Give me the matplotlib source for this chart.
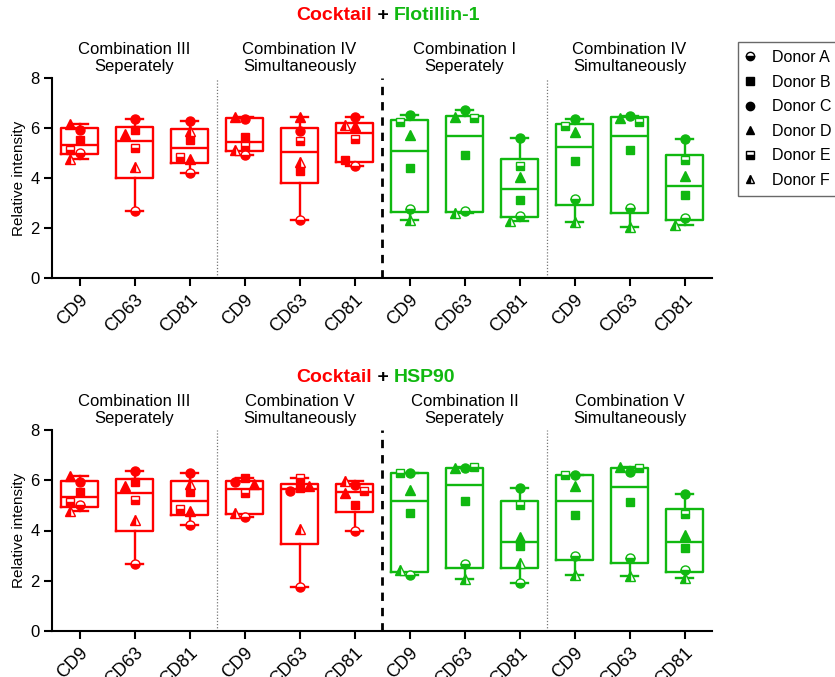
import numpy as np
import matplotlib
matplotlib.use('Agg')
import matplotlib.pyplot as plt
from matplotlib.lines import Line2D
from matplotlib.offsetbox import TextArea, HPacker, AnchoredOffsetbox
from matplotlib import font_manager

plt.rcParams['font.family'] = ['Liberation Sans', 'DejaVu Sans']

RED = '#FF0000'
GREEN = '#10B810'

cd_labels = ['CD9', 'CD63', 'CD81']
donors = ['Donor A', 'Donor B', 'Donor C', 'Donor D', 'Donor E', 'Donor F']

# rows: CD9, CD63, CD81 ; columns: donors A..F
flot_comb3_sep = [[5.00, 5.53, 5.93, 6.17, 5.13, 4.77],
                  [2.67, 5.93, 6.37, 5.76, 5.20, 4.43],
                  [4.20, 5.53, 6.29, 4.76, 4.85, 5.87]]
flot_comb4_sim_red = [[4.93, 5.63, 6.37, 6.44, 5.29, 5.13],
                      [2.33, 4.29, 5.87, 6.44, 5.47, 4.63],
                      [4.47, 4.71, 6.44, 6.07, 5.56, 6.13]]
flot_comb1_sep = [[2.76, 4.40, 6.53, 5.73, 6.23, 2.33],
                  [2.67, 4.93, 6.71, 6.43, 6.40, 2.60],
                  [2.49, 3.11, 5.60, 4.04, 4.49, 2.27]]
flot_comb4_sim_green = [[3.16, 4.67, 6.36, 5.83, 6.09, 2.23],
                        [2.80, 5.13, 6.49, 6.40, 6.23, 2.03],
                        [2.40, 3.33, 5.56, 4.07, 4.71, 2.13]]

hsp_comb3_sep = [[5.00, 5.53, 5.93, 6.17, 5.13, 4.77],
                 [2.67, 5.93, 6.37, 5.76, 5.20, 4.43],
                 [4.20, 5.53, 6.29, 4.76, 4.85, 5.87]]
hsp_comb5_sim_red = [[4.55, 6.07, 5.93, 5.85, 5.48, 4.68],
                     [1.77, 5.71, 5.57, 5.77, 6.07, 4.04],
                     [3.97, 5.00, 5.80, 5.48, 5.57, 5.97]]
hsp_comb2_sep = [[2.24, 4.71, 6.28, 5.61, 6.28, 2.41],
                 [2.67, 5.17, 6.48, 6.47, 6.53, 2.08],
                 [1.93, 3.37, 5.71, 3.75, 5.00, 2.71]]
hsp_comb5_sim_green = [[3.00, 4.60, 6.20, 5.77, 6.20, 2.24],
                       [2.91, 5.13, 6.33, 6.53, 6.47, 2.17],
                       [2.44, 3.31, 5.44, 3.81, 4.64, 2.11]]

top_groups = [("Combination III\nSeperately", flot_comb3_sep, RED),
              ("Combination IV\nSimultaneously", flot_comb4_sim_red, RED),
              ("Combination I\nSeperately", flot_comb1_sep, GREEN),
              ("Combination IV\nSimultaneously", flot_comb4_sim_green, GREEN)]
bottom_groups = [("Combination III\nSeperately", hsp_comb3_sep, RED),
                 ("Combination V\nSimultaneously", hsp_comb5_sim_red, RED),
                 ("Combination II\nSeperately", hsp_comb2_sep, GREEN),
                 ("Combination V\nSimultaneously", hsp_comb5_sim_green, GREEN)]

# marker styles per donor: (marker, fillstyle)
donor_styles = [('o', 'bottom'), ('s', 'full'), ('o', 'full'),
                ('^', 'full'), ('s', 'bottom'), ('^', 'left')]
donor_sizes = [6.5, 5.8, 6.5, 6.5, 5.8, 6.5]


def box_stats(vals):
    v = np.asarray(vals, dtype=float)
    q1, med, q3 = np.percentile(v, [25, 50, 75], method='weibull')
    return dict(med=med, q1=q1, q3=q3, whislo=v.min(), whishi=v.max(), fliers=[])


def swarm_offsets(vals, dx=0.165, dy=0.32):
    placed = []
    offs = []
    for v in vals:
        chosen = 0.0
        for k in [0, -1, 1, -2, 2, -3, 3]:
            o = k * dx
            if all(not (abs(o - po) < dx * 0.95 and abs(v - pv) < dy) for po, pv in placed):
                chosen = o
                break
        placed.append((chosen, v))
        offs.append(chosen)
    return offs


fig = plt.figure(figsize=(8.35, 6.77), dpi=100)
W, H = 835, 677


def make_panel(rect, groups):
    ax = fig.add_axes(rect)
    xticks = []
    xlabels = []
    for gi, (glabel, data, col) in enumerate(groups):
        for ci, vals in enumerate(data):
            pos = gi * 3 + ci
            xticks.append(pos)
            xlabels.append(cd_labels[ci])
            lw = 1.7
            ax.bxp([box_stats(vals)], positions=[pos], widths=0.69, showfliers=False,
                   capwidths=0.3, manage_ticks=False,
                   boxprops=dict(color=col, lw=lw),
                   whiskerprops=dict(color=col, lw=lw),
                   capprops=dict(color=col, lw=lw),
                   medianprops=dict(color=col, lw=lw))
            offs = swarm_offsets(vals)
            for di, v in enumerate(vals):
                m, fs = donor_styles[di]
                ax.plot(pos + offs[di], v, linestyle='none', marker=m, fillstyle=fs,
                        markersize=donor_sizes[di], markerfacecolor=col,
                        markerfacecoloralt='white', markeredgecolor=col,
                        markeredgewidth=1.0, zorder=5, clip_on=False)
        ax.text(gi * 3 + 1, 1.02, glabel, transform=ax.get_xaxis_transform(),
                ha='center', va='bottom', fontsize=12, linespacing=1.15)
    for xs in (2.5, 8.5):
        ax.axvline(xs, color='#777777', lw=0.9, ls=(0, (1, 1.5)), zorder=1)
    ax.axvline(5.5, color='black', lw=2.0, ls=(0, (3, 2.5)), zorder=1)
    ax.set_xlim(-0.5, 11.5)
    ax.set_ylim(0, 8)
    ax.set_yticks([0, 2, 4, 6, 8])
    ax.set_xticks(xticks)
    ax.set_xticklabels(xlabels, rotation=45, ha='right', rotation_mode='anchor', fontsize=13)
    ax.tick_params(axis='y', labelsize=12, width=1.5, length=6, pad=3)
    ax.tick_params(axis='x', width=1.5, length=6)
    for s in ('top', 'right'):
        ax.spines[s].set_visible(False)
    for s in ('left', 'bottom'):
        ax.spines[s].set_linewidth(1.5)
    ax.set_ylabel('Relative intensity', fontsize=11, labelpad=3)
    return ax


ax1 = make_panel([52 / W, 1 - 278 / H, 660 / W, 200 / H], top_groups)
ax2 = make_panel([52 / W, 1 - 631 / H, 660 / W, 201 / H], bottom_groups)

# titles
names = {f.name for f in font_manager.fontManager.ttflist}
if 'Liberation Sans Narrow' in names:
    tfam, tsize = 'Liberation Sans Narrow', 16
else:
    tfam, tsize = 'Liberation Sans', 14


def add_title(parts, ypix):
    areas = [TextArea(t, textprops=dict(color=c, fontweight='bold', fontsize=tsize, family=tfam))
             for t, c in parts]
    box = HPacker(children=areas, align='baseline', pad=0, sep=0)
    anch = AnchoredOffsetbox(loc='center left', child=box, pad=0, frameon=False,
                             bbox_to_anchor=(296 / W, 1 - ypix / H),
                             bbox_transform=fig.transFigure, borderpad=0)
    fig.add_artist(anch)


add_title([('Cocktail', RED), (' + ', 'black'), ('Flotillin-1', GREEN)], 15)
add_title([('Cocktail', RED), (' + ', 'black'), ('HSP90', GREEN)], 378)

# legend
handles = []
for di in range(6):
    m, fs = donor_styles[di]
    handles.append(Line2D([], [], linestyle='none', marker=m, fillstyle=fs,
                          markersize=donor_sizes[di] - 0.5, markerfacecolor='black',
                          markerfacecoloralt='white', markeredgecolor='black',
                          markeredgewidth=1.0))
leg = fig.legend(handles, donors, loc='upper left', bbox_to_anchor=(738 / W, 1 - 42 / H),
                 frameon=True, fancybox=False, edgecolor='#444444', fontsize=11.5,
                 handlelength=0.55, handletextpad=1.1, labelspacing=0.6,
                 borderpad=0.5, borderaxespad=0)
leg.get_frame().set_linewidth(1.0)

fig.savefig('out.png', dpi=100)
